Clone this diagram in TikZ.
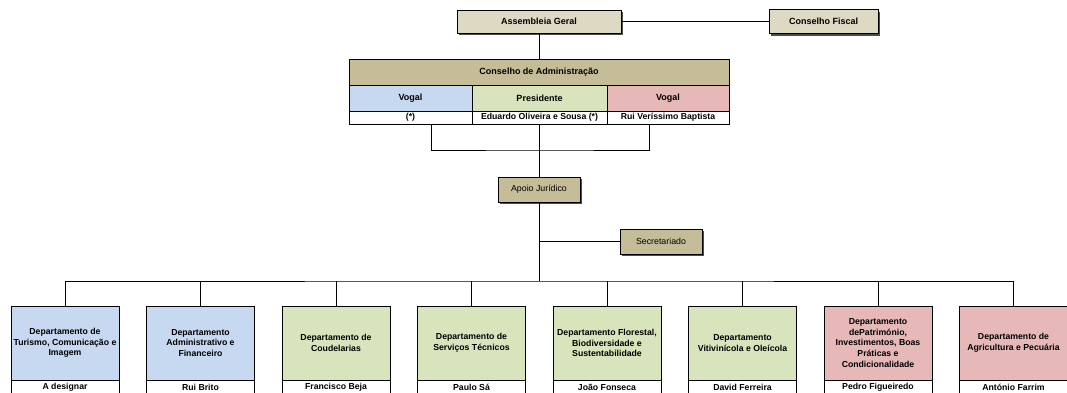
\documentclass[tikz,border=0pt]{standalone}
\usepackage{fontspec}
\setmainfont{Liberation Sans}
\usetikzlibrary{shadows}
\definecolor{tanlight}{HTML}{DDD9C3}
\definecolor{tandark}{HTML}{C4BD97}
\definecolor{cblue}{HTML}{C6D9F0}
\definecolor{cgreen}{HTML}{D7E4BC}
\definecolor{cpink}{HTML}{E6B9B8}
\tikzset{
  every node/.style={inner sep=0pt, outer sep=0pt},
  box/.style={draw=black, line width=0.8pt, rectangle, align=center},
  topfont/.style={font=\fontsize{9}{11}\selectfont\bfseries},
  deptfont/.style={font=\fontsize{8.7}{10.7}\selectfont\bfseries},
  plainfont/.style={font=\fontsize{8.8}{10.6}\selectfont},
  shad/.style={drop shadow={shadow xshift=2pt, shadow yshift=-2pt, fill=black!70, opacity=1}},
  conn/.style={draw=black, line width=0.9pt},
  dept/.style={box, deptfont, minimum width=108pt, minimum height=74pt},
  namecell/.style={box, deptfont, fill=white, minimum width=108pt, minimum height=14pt},
}
\begin{document}
\begin{tikzpicture}[x=1pt,y=-1pt]
\useasboundingbox (0,0) rectangle (1067,392);
\fill[white] (0,0) rectangle (1067,392);

% top
\node[box, topfont, fill=tanlight, shad, minimum width=164pt, minimum height=23pt] (ag) at (539,21.5) {Assembleia Geral};
\node[box, topfont, fill=tanlight, shad, minimum width=109pt, minimum height=24pt] (cf) at (823.5,21.5) {Conselho Fiscal};

% Conselho de Administracao table
\node[box, topfont, fill=tandark, minimum width=380pt, minimum height=26pt] (ca) at (539,72) {Conselho de Administração};
\node[box, topfont, fill=cblue, minimum width=123pt, minimum height=26pt] (v1) at (410.5,98) {Vogal};
\node[box, topfont, fill=cgreen, minimum width=135pt, minimum height=26pt] (pr) at (539.5,98) {Presidente};
\node[box, topfont, fill=cpink, minimum width=122pt, minimum height=26pt] (v2) at (668,98) {Vogal};
\node[box, deptfont, fill=white, minimum width=123pt, minimum height=13pt] (n1) at (410.5,117.5) {(*)};
\node[box, deptfont, fill=white, minimum width=135pt, minimum height=13pt] (n2) at (539.5,117.5) {Eduardo Oliveira e Sousa (*)};
\node[box, deptfont, fill=white, minimum width=122pt, minimum height=13pt] (n3) at (668,117.5) {Rui Veríssimo Baptista};

% support
\node[box, plainfont, fill=tandark, shad, minimum width=82pt, minimum height=25pt] (apoio) at (539,189.5) {Apoio Jurídico};
\node[box, plainfont, fill=tandark, shad, minimum width=82pt, minimum height=25pt] (sec) at (661,241.5) {Secretariado};

% departments
\node[dept, fill=cblue] (d1) at (65,343) {Departamento de\\Turismo, Comunicação e\\Imagem};
\node[dept, fill=cblue] (d2) at (200.5,343) {Departamento\\Administrativo e\\Financeiro};
\node[dept, fill=cgreen] (d3) at (336,343) {Departamento de\\Coudelarias};
\node[dept, fill=cgreen] (d4) at (471.5,343) {Departamento de\\Serviços Técnicos};
\node[dept, fill=cgreen] (d5) at (607,343) {Departamento Florestal,\\Biodiversidade e\\Sustentabilidade};
\node[dept, fill=cgreen] (d6) at (742.5,343) {Departamento\\Vitivinícola e Oleícola};
\node[dept, fill=cpink] (d7) at (878,343) {Departamento\\dePatrimónio,\\Investimentos, Boas\\Práticas e\\Condicionalidade};
\node[dept, fill=cpink] (d8) at (1013.5,343) {Departamento de\\Agricultura e Pecuária};

\node[namecell, anchor=north] (m1) at (d1.south) {A designar};
\node[namecell, anchor=north] (m2) at (d2.south) {Rui Brito};
\node[namecell, anchor=north] (m3) at (d3.south) {Francisco Beja};
\node[namecell, anchor=north] (m4) at (d4.south) {Paulo Sá};
\node[namecell, anchor=north] (m5) at (d5.south) {João Fonseca};
\node[namecell, anchor=north] (m6) at (d6.south) {David Ferreira};
\node[namecell, anchor=north] (m7) at (d7.south) {Pedro Figueiredo};
\node[namecell, anchor=north] (m8) at (d8.south) {António Farrim};

% connector coordinates
\coordinate (b1) at (431,124);
\coordinate (b3) at (649,124);
\coordinate (bj) at (539,150);
\coordinate (bus) at (539,281);

% connectors
\draw[conn] (ag.east) -- (cf.west);
\draw[conn] (ag.south) -- (ca.north);
\draw[conn] (b1) |- (bj) -| (b3);
\draw[conn] (n2.south -| apoio.north) -- (apoio.north);
\draw[conn] (apoio.south) -- (bus);
\draw[conn] (apoio.south |- sec.west) -- (sec.west);
\draw[conn] (d1.north) |- (bus) -| (d8.north);
\foreach \i in {2,...,7} {
  \draw[conn] (d\i.north) -- (d\i.north |- bus);
}
\end{tikzpicture}
\end{document}
